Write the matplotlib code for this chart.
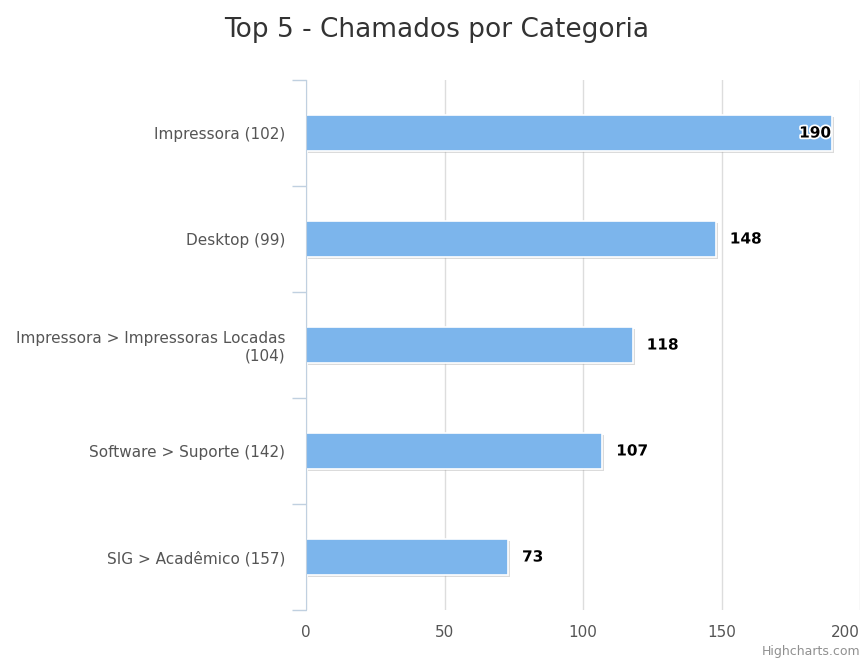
import matplotlib.pyplot as plt
import matplotlib.patheffects as pe
import numpy as np

categories = ["Impressora (102)", "Desktop (99)",
              "Impressora > Impressoras Locadas\n(104)",
              "Software > Suporte (142)", "SIG > Acadêmico (157)"]
values = [190, 148, 118, 107, 73]
xticks = [0, 50, 100, 150, 200]

plt.rcParams['font.family'] = ['DejaVu Sans']

fig = plt.figure(figsize=(8.63, 6.59), dpi=100)
ax = fig.add_axes([306 / 863, 1 - 610 / 659, 554 / 863, 530 / 659])

y = np.arange(len(categories))
bars = ax.barh(y, values, height=0.34, color='#7cb5ec', edgecolor='white',
               linewidth=1.2, zorder=3)
for b in bars:
    b.set_path_effects([pe.SimplePatchShadow(offset=(1.5, -1.5), shadow_rgbFace='#999999', alpha=0.35),
                        pe.Normal()])

for yi, v in zip(y, values):
    if v > 185:
        ax.text(v - 0.5, yi, str(v), ha='right', va='center', fontsize=11,
                fontweight='bold', color='black', zorder=5,
                path_effects=[pe.withStroke(linewidth=2.5, foreground='white')])
    else:
        ax.text(v + 5, yi, str(v), ha='left', va='center', fontsize=11,
                fontweight='bold', color='black', zorder=5,
                path_effects=[pe.withStroke(linewidth=2.5, foreground='white')])

ax.set_xlim(0, 200)
ax.set_ylim(len(categories) - 0.5, -0.5)
ax.set_xticks(xticks)
ax.set_yticks(y)
ax.set_yticklabels(categories, fontsize=11, color='#555555', ha='right')
ax.set_yticks(np.arange(-0.5, len(categories), 1), minor=True)
ax.tick_params(axis='y', which='major', length=0, pad=15)
ax.tick_params(axis='y', which='minor', length=10, color='#c0d0e0', width=1)
ax.tick_params(axis='x', length=0, labelsize=11, labelcolor='#555555', pad=11)
for lbl in ax.get_yticklabels():
    lbl.set_multialignment('right')
# keep the last x label inside the figure, like Highcharts does
ax.get_xticklabels()[-1].set_ha('right')

ax.grid(axis='x', color='#dddddd', linewidth=1, zorder=0)
for s in ['top', 'right', 'bottom']:
    ax.spines[s].set_visible(False)
ax.spines['left'].set_color('#c0d0e0')
ax.spines['left'].set_zorder(4)

fig.text(437 / 863, 1 - 30 / 659, "Top 5 - Chamados por Categoria", ha='center',
         va='center', fontsize=19, color='#333333')
fig.text(860 / 863, 1 - 651 / 659, "Highcharts.com", ha='right', va='center',
         fontsize=9, color='#909090')

fig.savefig("out.png", dpi=100)
